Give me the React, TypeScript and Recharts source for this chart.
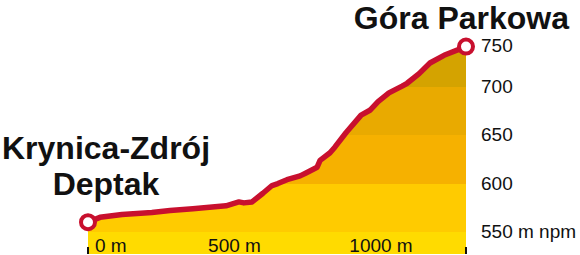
import { AreaChart, Area, XAxis, YAxis } from "recharts";

const distance = [0, 41, 116, 218, 280, 358, 471, 515, 532, 560, 597, 628, 648, 679, 724, 744, 782, 792, 826, 843, 881, 932, 962, 990, 1027, 1072, 1089, 1130, 1167, 1215, 1290];
const elevation = [560, 565, 568, 570, 572, 574, 577, 581, 580, 581, 590, 598, 600, 604, 608, 611, 617, 624, 632, 638, 653, 671, 676, 685, 694, 701, 704, 714, 725, 733, 742];

const xTicks = [0, 500, 1000, 1290];
const xLabels = ["0 m", "500 m", "1000 m", ""];
const yTicks = [550, 600, 650, 700, 750];
const yLabels = ["550 m npm", "600", "650", "700", "750"];

const bandLimits = [700, 650, 600, 550];
const bandColors = ["#D4A300", "#E9AA00", "#F6B100", "#FFCB00", "#FFDB00"];

const yDomain: [number, number] = [527, 753];
const FONT = "'Liberation Sans', Arial, sans-serif";
const RED = "#C8102E";

const data = distance.map((d, i) => ({ d, e: elevation[i] }));

const top = Math.max(...elevation);
const base = yDomain[0];
const off = (v: number) => (top - v) / (top - base);

const XTick = (props: any) => {
  const { x, y, index } = props;
  const label = xLabels[index];
  const edge = index === 0 || index === xTicks.length - 1;
  return (
    <g>
      {edge && <line x1={x} x2={x} y1={y - 7} y2={y} stroke="#111" strokeWidth={2} />}
      {label && (
        <text
          x={index === 0 ? x + 7 : x}
          y={y - 2}
          textAnchor={index === 0 ? "start" : "middle"}
          fontSize={19}
          fontFamily={FONT}
          fill="#111"
        >
          {label}
        </text>
      )}
    </g>
  );
};

const YTick = (props: any) => {
  const { x, y, index } = props;
  // top label sits a little lower in the original
  const shift = index === yTicks.length - 1 ? 7 : 0;
  return (
    <text x={x + 15} y={y + shift} dy={6} textAnchor="start" fontSize={19} fontFamily={FONT} fill="#111">
      {yLabels[index]}
    </text>
  );
};

const EndDot = (props: any) => {
  const { cx, cy, index } = props;
  if (index !== 0 && index !== data.length - 1) return <g key={`d${index}`} />;
  return <circle key={`d${index}`} cx={cx} cy={cy} r={7} fill="#fff" stroke={RED} strokeWidth={4} />;
};

const titleStyle: React.CSSProperties = {
  position: "absolute",
  fontFamily: FONT,
  fontWeight: "bold",
  fontSize: 32,
  lineHeight: "36px",
  color: "#111",
  whiteSpace: "nowrap",
};

export default function App() {
  return (
    <div style={{ position: "absolute", left: 0, top: 0, width: 580, height: 255, background: "#fff" }}>
      <AreaChart width={580} height={255} data={data} margin={{ top: 36, right: 0, bottom: 0, left: 88 }}>
        <defs>
          <linearGradient id="elev" x1="0" y1="0" x2="0" y2="1">
            <stop offset={0} stopColor={bandColors[0]} />
            {bandLimits.map((v, i) => [
              <stop key={`a${i}`} offset={off(v)} stopColor={bandColors[i]} />,
              <stop key={`b${i}`} offset={off(v)} stopColor={bandColors[i + 1]} />,
            ])}
            <stop offset={1} stopColor={bandColors[bandColors.length - 1]} />
          </linearGradient>
        </defs>
        <XAxis
          dataKey="d"
          type="number"
          domain={[0, 1290]}
          ticks={xTicks}
          height={1}
          axisLine={false}
          tickLine={false}
          tickSize={0}
          tickMargin={0}
          tick={<XTick />}
          interval={0}
        />
        <YAxis
          orientation="right"
          type="number"
          domain={yDomain}
          ticks={yTicks}
          width={114}
          axisLine={false}
          tickLine={false}
          tickSize={0}
          tickMargin={0}
          tick={<YTick />}
          interval={0}
        />
        <Area
          type="linear"
          dataKey="e"
          stroke={RED}
          strokeWidth={5.5}
          strokeLinejoin="round"
          fill="url(#elev)"
          fillOpacity={1}
          dot={EndDot}
          activeDot={false}
          isAnimationActive={false}
        />
      </AreaChart>
      <div style={{ ...titleStyle, right: 11, top: 0 }}>Góra Parkowa</div>
      <div style={{ ...titleStyle, left: 0, width: 212, top: 130, textAlign: "center" }}>
        Krynica-Zdrój
        <br />
        Deptak
      </div>
    </div>
  );
}
